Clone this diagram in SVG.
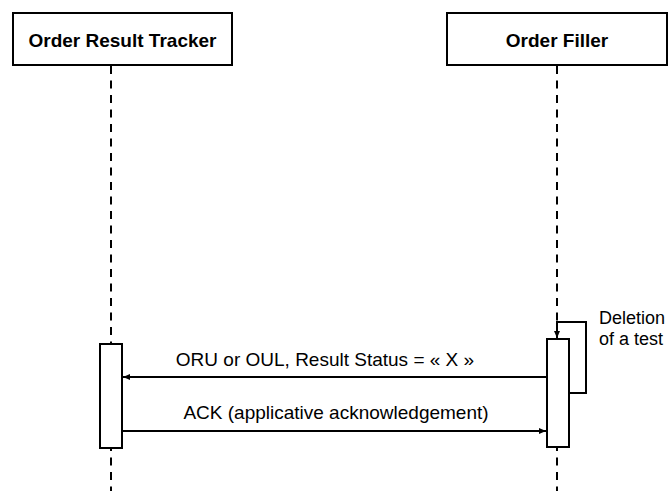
<svg xmlns="http://www.w3.org/2000/svg" width="670" height="491" viewBox="0 0 670 491">
<style>
.box{fill:#fff;stroke:#000;stroke-width:2}
.life{stroke:#000;stroke-width:2;stroke-dasharray:8,6.5;fill:none}
.hdr{font-family:"Liberation Sans",Arial,sans-serif;font-weight:bold;font-size:19px;text-anchor:middle}
.lbl{font-family:"Liberation Sans",Arial,sans-serif;font-size:19px}
.note{font-family:"Liberation Sans",Arial,sans-serif;font-size:18px}
.msg{stroke:#000;stroke-width:2;fill:none}
</style>
<defs>
<marker id="ah" markerWidth="8" markerHeight="8" refX="7" refY="4" orient="auto" markerUnits="userSpaceOnUse">
<path d="M0,1 L7,4 L0,7 Z" fill="#000"/>
</marker>
</defs>
<g id="lifelines">
<line class="life" x1="111" y1="66" x2="111" y2="491"/>
<line class="life" x1="557" y1="66" x2="557" y2="491"/>
</g>
<g id="ort">
<rect class="box" x="13" y="13" width="219" height="52"/>
<text class="hdr" x="122.5" y="47">Order Result Tracker</text>
<rect class="box" x="100" y="344" width="22" height="104"/>
</g>
<g id="of">
<rect class="box" x="447" y="13" width="220" height="52"/>
<text class="hdr" x="557" y="47">Order Filler</text>
<rect class="box" x="547" y="339" width="22" height="108"/>
</g>
<g id="connectors">
<polyline class="msg" points="569,393 586,393 586,322 557,322 557,338" marker-end="url(#ah)"/>
<line class="msg" x1="546" y1="377" x2="123" y2="377" marker-end="url(#ah)"/>
<line class="msg" x1="122" y1="431" x2="546" y2="431" marker-end="url(#ah)"/>
</g>
<g id="labels">
<text class="note" x="599" y="324">Deletion</text>
<text class="note" x="599" y="345">of a test</text>
<text class="lbl" x="325" y="366" text-anchor="middle">ORU or OUL, Result Status = « X »</text>
<text class="lbl" x="336" y="419" text-anchor="middle">ACK (applicative acknowledgement)</text>
</g>
</svg>
